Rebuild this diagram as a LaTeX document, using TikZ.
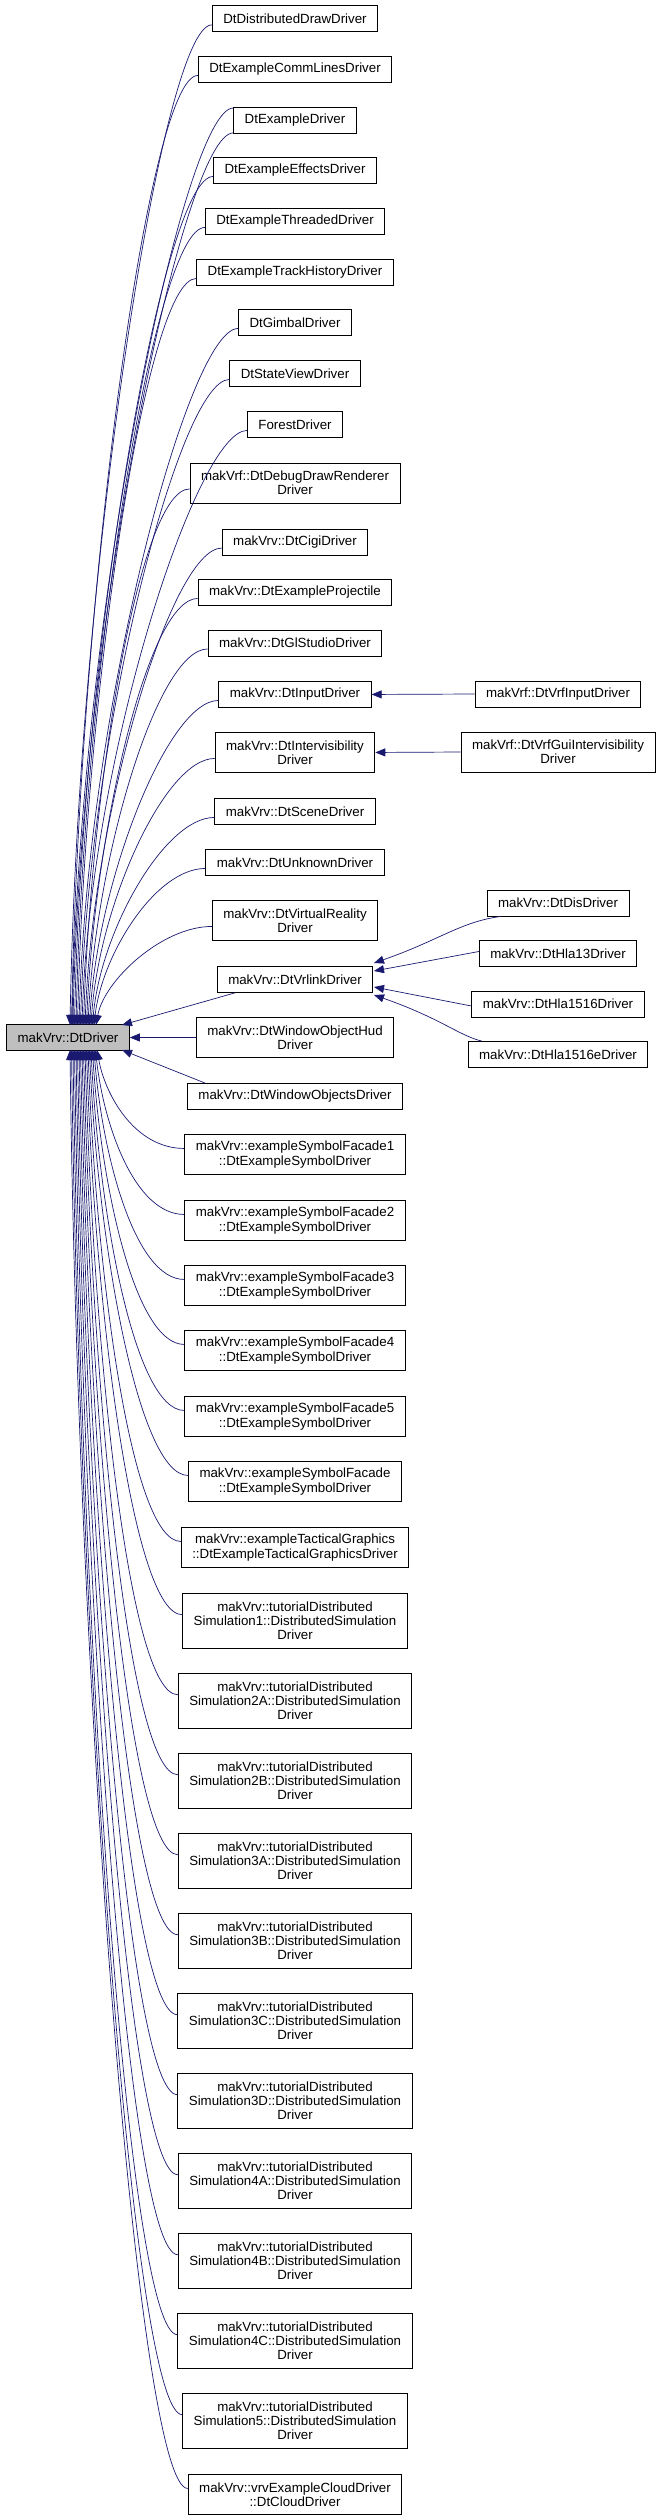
\documentclass[tikz,border=0pt]{standalone}
\usepackage{fontspec}
\setmainfont{Liberation Sans}
\usetikzlibrary{arrows.meta,calc}
\definecolor{edgec}{HTML}{191970}
\begin{document}
\begin{tikzpicture}[x=1pt,y=1pt,
  box/.style={draw, fill=white, align=center, inner xsep=11pt, inner ysep=0pt,
    font=\fontsize{13.3}{14.3}\selectfont, line width=0.9pt, anchor=north},
  one/.style={box, minimum height=26},
  two/.style={box, minimum height=40},
  three/.style={box, minimum height=54.5},
  edge/.style={draw=edgec, line width=0.7pt, -{Triangle[length=10pt,width=8pt]}}]
\useasboundingbox (0,0) rectangle (661,-2519);
\newcommand\inh[3]{\coordinate (t#1#3) at (#2);
  \draw[edge] let \p1=(s#1#3), \p2=(t#1#3) in (s#1#3) .. controls (\x1-50,\y1) and (\x2+8,{\y2+0.45*(\y1-\y2)}) .. (t#1#3);}
% main
\node[one, anchor=center, fill={rgb,255:red,191;green,191;blue,191}] (m) at (68,-1037.5) {makVrv::DtDriver};
% column
\node[one] (n1) at (295,-5.4) {DtDistributedDrawDriver};
\node[one] (n2) at (295,-56) {DtExampleCommLinesDriver};
\node[one] (n3) at (295,-107) {DtExampleDriver};
\node[one] (n4) at (295,-157) {DtExampleEffectsDriver};
\node[one] (n5) at (295,-208) {DtExampleThreadedDriver};
\node[one] (n6) at (295,-259) {DtExampleTrackHistoryDriver};
\node[one] (n7) at (295,-309) {DtGimbalDriver};
\node[one] (n8) at (295,-360) {DtStateViewDriver};
\node[one] (n9) at (295,-411) {ForestDriver};
\node[two] (n10) at (295,-462.5) {makVrf::DtDebugDrawRenderer\\Driver};
\node[one] (n11) at (295,-528.6) {makVrv::DtCigiDriver};
\node[one] (n12) at (295,-579) {makVrv::DtExampleProjectile};
\node[one] (n13) at (295,-629.5) {makVrv::DtGlStudioDriver};
\node[one] (n14) at (295,-681) {makVrv::DtInputDriver};
\node[two] (n15) at (295,-732) {makVrv::DtIntervisibility\\Driver};
\node[one] (n16) at (295,-798) {makVrv::DtSceneDriver};
\node[one] (n17) at (295,-849) {makVrv::DtUnknownDriver};
\node[two] (n18) at (295,-900) {makVrv::DtVirtualReality\\Driver};
\node[one] (n19) at (295,-966) {makVrv::DtVrlinkDriver};
\node[two] (n20) at (295,-1017) {makVrv::DtWindowObjectHud\\Driver};
\node[one] (n21) at (295,-1083) {makVrv::DtWindowObjectsDriver};
\node[two] (n22) at (295,-1134) {makVrv::exampleSymbolFacade1\\::DtExampleSymbolDriver};
\node[two] (n23) at (295,-1200) {makVrv::exampleSymbolFacade2\\::DtExampleSymbolDriver};
\node[two] (n24) at (295,-1265) {makVrv::exampleSymbolFacade3\\::DtExampleSymbolDriver};
\node[two] (n25) at (295,-1330) {makVrv::exampleSymbolFacade4\\::DtExampleSymbolDriver};
\node[two] (n26) at (295,-1396) {makVrv::exampleSymbolFacade5\\::DtExampleSymbolDriver};
\node[two] (n27) at (295,-1461) {makVrv::exampleSymbolFacade\\::DtExampleSymbolDriver};
\node[two] (n28) at (295,-1527) {makVrv::exampleTacticalGraphics\\::DtExampleTacticalGraphicsDriver};
\node[three] (n29) at (295,-1593) {makVrv::tutorialDistributed\\Simulation1::DistributedSimulation\\Driver};
\node[three] (n30) at (295,-1673) {makVrv::tutorialDistributed\\Simulation2A::DistributedSimulation\\Driver};
\node[three] (n31) at (295,-1753) {makVrv::tutorialDistributed\\Simulation2B::DistributedSimulation\\Driver};
\node[three] (n32) at (295,-1833) {makVrv::tutorialDistributed\\Simulation3A::DistributedSimulation\\Driver};
\node[three] (n33) at (295,-1913) {makVrv::tutorialDistributed\\Simulation3B::DistributedSimulation\\Driver};
\node[three] (n34) at (295,-1993) {makVrv::tutorialDistributed\\Simulation3C::DistributedSimulation\\Driver};
\node[three] (n35) at (295,-2073) {makVrv::tutorialDistributed\\Simulation3D::DistributedSimulation\\Driver};
\node[three] (n36) at (295,-2153) {makVrv::tutorialDistributed\\Simulation4A::DistributedSimulation\\Driver};
\node[three] (n37) at (295,-2233) {makVrv::tutorialDistributed\\Simulation4B::DistributedSimulation\\Driver};
\node[three] (n38) at (295,-2313) {makVrv::tutorialDistributed\\Simulation4C::DistributedSimulation\\Driver};
\node[three] (n39) at (295,-2393) {makVrv::tutorialDistributed\\Simulation5::DistributedSimulation\\Driver};
\node[two] (n40) at (295,-2474) {makVrv::vrvExampleCloudDriver\\::DtCloudDriver};
% right column
\node[one, anchor=center] (r14) at (558,-694) {makVrf::DtVrfInputDriver};
\node[two, anchor=center] (r15) at (558,-752) {makVrf::DtVrfGuiIntervisibility\\Driver};
\node[one, anchor=center] (dis) at (558,-903) {makVrv::DtDisDriver};
\node[one, anchor=center] (h13) at (558,-953.5) {makVrv::DtHla13Driver};
\node[one, anchor=center] (h15) at (558,-1004) {makVrv::DtHla1516Driver};
\node[one, anchor=center] (h15e) at (558,-1054.5) {makVrv::DtHla1516eDriver};
% upper edges
\foreach \i/\ex in {1/70,2/71.5,4/74.5,5/76,6/77.5,7/79,8/80.5,9/82,10/83.5,11/85,12/86.5,13/88,14/89.5,15/91,16/92.5,17/94,18/96}{
  \coordinate (s\i a) at ([yshift=-6]n\i.west);
  \inh{\i}{\ex,-1025}{a}
}
\coordinate (s3a) at ([yshift=-1]n3.north west);
\inh{3}{72,-1025}{a}
\coordinate (s3b) at ([yshift=1]n3.south west);
\inh{3}{73,-1025}{b}
% lower edges
\foreach \i/\ex in {22/97,23/95.5,24/94,25/92.5,26/91,27/89.5,28/88,29/86.5,30/85,31/83.5,32/82,33/80.5,34/79,35/77.5,36/76,37/74.5,38/73,39/71.5,40/70}{
  \coordinate (s\i a) at ([yshift=6]n\i.west);
  \inh{\i}{\ex,-1050}{a}
}
% near edges
\coordinate (tv) at (122,-1025);
\coordinate (tw) at (122,-1050);
\draw[edge] ([xshift=18]n19.south west) -- (tv);
\draw[edge] (n20.west) -- (m.east);
\draw[edge] ([xshift=18]n21.north west) -- (tw);
% right edges
\draw[edge] (r14.west) -- (n14.east);
\draw[edge] (r15.west) -- (n15.east);
\coordinate (v1) at (374,-963);
\coordinate (v2) at (374,-971);
\coordinate (v3) at (374,-987);
\coordinate (v4) at (374,-995);
\draw[edge] ([xshift=14]dis.south west) .. controls (460,-922) and (440,-940) .. (v1);
\draw[edge] ([yshift=2]h13.west) -- (v2);
\draw[edge] ([yshift=-2]h15.west) -- (v3);
\draw[edge] ([xshift=14]h15e.north west) .. controls (460,-1036) and (440,-1018) .. (v4);
\end{tikzpicture}
\end{document}
